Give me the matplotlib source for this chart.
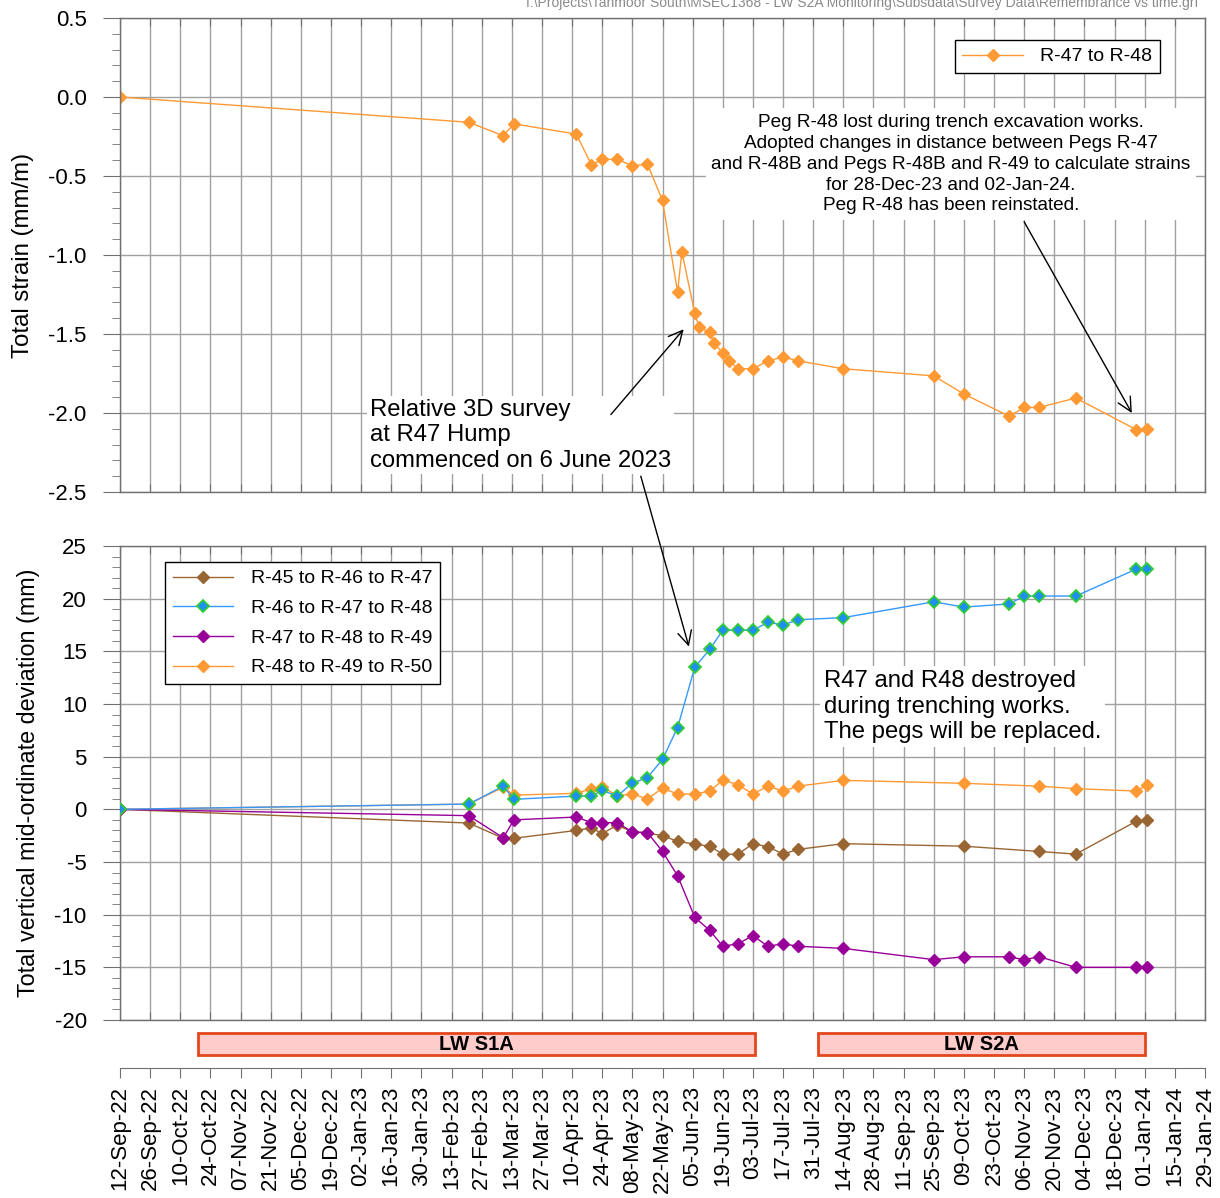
import matplotlib
matplotlib.use("Agg")
import matplotlib.pyplot as plt
import matplotlib.dates as mdates
from matplotlib.patches import Rectangle
from matplotlib.ticker import MultipleLocator, FormatStrFormatter, FixedLocator
import pandas as pd

plt.rcParams["font.family"] = ["Liberation Sans", "DejaVu Sans"]
plt.rcParams["axes.unicode_minus"] = False

# ---------------------------------------------------------------- data
strain_dates = ["2022-09-12", "2023-02-21", "2023-03-09", "2023-03-14", "2023-04-12",
                "2023-04-19", "2023-04-24", "2023-05-01", "2023-05-08", "2023-05-15",
                "2023-05-22", "2023-05-29", "2023-05-31", "2023-06-06", "2023-06-08",
                "2023-06-13", "2023-06-15", "2023-06-19", "2023-06-22", "2023-06-26",
                "2023-07-03", "2023-07-10", "2023-07-17", "2023-07-24", "2023-08-14",
                "2023-09-25", "2023-10-09", "2023-10-30", "2023-11-06", "2023-11-13",
                "2023-11-30", "2023-12-28", "2024-01-02"]
strain_r47_r48 = [0.00, -0.16, -0.245, -0.17, -0.235,
                  -0.43, -0.395, -0.395, -0.435, -0.425,
                  -0.655, -1.235, -0.98, -1.37, -1.455,
                  -1.49, -1.56, -1.62, -1.67, -1.72,
                  -1.72, -1.67, -1.645, -1.67, -1.72,
                  -1.765, -1.88, -2.02, -1.965, -1.965,
                  -1.905, -2.105, -2.10]

early_dates = ["2022-09-12", "2023-02-21", "2023-03-09", "2023-03-14", "2023-04-12",
               "2023-04-19", "2023-04-24", "2023-05-01", "2023-05-08", "2023-05-15",
               "2023-05-22", "2023-05-29", "2023-06-06", "2023-06-13", "2023-06-19",
               "2023-06-26", "2023-07-03", "2023-07-10", "2023-07-17", "2023-07-24",
               "2023-08-14"]

r46_r48_dates = early_dates + ["2023-09-25", "2023-10-09", "2023-10-30", "2023-11-06",
                               "2023-11-13", "2023-11-30", "2023-12-28", "2024-01-02"]
r46_r48 = [0.0, 0.5, 2.2, 0.95, 1.26, 1.26, 1.8, 1.26, 2.5, 3.0,
           4.75, 7.76, 13.5, 15.2, 17.0, 17.0, 17.0, 17.76, 17.5, 18.0,
           18.2, 19.7, 19.2, 19.5, 20.25, 20.25, 20.25, 22.8, 22.8]

r47_r49_dates = r46_r48_dates
r47_r49 = [0.0, -0.6, -2.7, -1.0, -0.73, -1.27, -1.27, -1.27, -2.15, -2.2,
           -4.0, -6.3, -10.26, -11.5, -13.0, -12.76, -12.0, -13.0, -12.76, -13.0,
           -13.2, -14.27, -14.0, -14.0, -14.27, -14.0, -15.0, -15.0, -15.0]

r45_r47_dates = early_dates + ["2023-10-09", "2023-11-13", "2023-11-30",
                               "2023-12-28", "2024-01-02"]
r45_r47 = [0.0, -1.3, -2.75, -2.75, -2.0, -1.77, -2.3, -1.5, -2.15, -2.25,
           -2.5, -3.04, -3.3, -3.5, -4.27, -4.27, -3.26, -3.55, -4.25, -3.8,
           -3.26, -3.5, -4.0, -4.25, -1.14, -1.0]

r48_r50_dates = r45_r47_dates
r48_r50 = [0.0, 0.5, 2.1, 1.35, 1.52, 1.95, 2.15, 1.3, 1.45, 1.0,
           2.0, 1.46, 1.46, 1.74, 2.78, 2.34, 1.46, 2.2, 1.74, 2.2,
           2.75, 2.47, 2.2, 1.96, 1.74, 2.28]

longwalls = ["LW S1A", "LW S2A"]
lw_start = ["2022-10-18", "2023-08-02"]
lw_end = ["2023-07-04", "2024-01-01"]

x_start, x_end = "2022-09-12", "2024-01-29"
tick_dates = pd.date_range(x_start, x_end, freq="14D")

file_path = r"I:\Projects\Tahmoor South\MSEC1368 - LW S2A Monitoring\Subsdata\Survey Data\Remembrance vs time.grf"

# ---------------------------------------------------------------- colours
C_ORANGE = "#FF9933"
C_BROWN = "#996633"
C_BLUE_LINE = "#3399FF"
C_BLUE = "#1E8FF0"
C_GREEN = "#33CC33"
C_PURPLE = "#990099"
GRID = "#a0a0a0"
AXIS = "#707070"

# ---------------------------------------------------------------- figure
W, H = 1220, 1198
fig = plt.figure(figsize=(W / 100, H / 100), dpi=100)


def px_axes(left, top, right, bottom):
    return fig.add_axes([left / W, 1 - bottom / H, (right - left) / W, (bottom - top) / H])


ax1 = px_axes(120, 18, 1205, 492)
ax2 = px_axes(120, 546, 1205, 1020)
ax3 = px_axes(120, 1020, 1205, 1068)

xlim = (mdates.date2num(pd.Timestamp(x_start)), mdates.date2num(pd.Timestamp(x_end)))


def dt(s):
    return mdates.date2num(pd.to_datetime(s))


def style_panel(ax):
    ax.set_xlim(*xlim)
    ax.xaxis.set_major_locator(FixedLocator(mdates.date2num(tick_dates)))
    ax.tick_params(axis="x", which="both", bottom=True, top=True, direction="in",
                   length=6, color=AXIS, labelbottom=False)
    ax.tick_params(axis="y", which="major", direction="out", length=12, color=AXIS,
                   labelsize=16, pad=12)
    ax.tick_params(axis="y", which="minor", direction="out", length=6, color=AXIS)
    ax.grid(True, which="major", color=GRID, lw=1.0)
    ax.set_axisbelow(True)
    for sp in ax.spines.values():
        sp.set_color(AXIS)
        sp.set_linewidth(1.0)


mk = dict(marker="D", markersize=6.2, lw=1.0)

# ---- top panel: total strain
style_panel(ax1)
ax1.plot(dt(strain_dates), strain_r47_r48, color=C_ORANGE, mfc=C_ORANGE, mec=C_ORANGE,
         label="R-47 to R-48", **mk)
ax1.set_ylim(-2.5, 0.5)
ax1.yaxis.set_major_locator(MultipleLocator(0.5))
ax1.yaxis.set_minor_locator(MultipleLocator(0.1))
ax1.yaxis.set_major_formatter(FormatStrFormatter("%.1f"))
ax1.set_ylabel("Total strain (mm/m)", fontsize=17.3)
ax1.yaxis.set_label_coords(-0.0795, 0.5)
leg1 = ax1.legend(loc="upper right", bbox_to_anchor=(0.9585, 0.9536), fontsize=14,
                  frameon=True, fancybox=False, edgecolor="black", framealpha=1,
                  handlelength=3.1, handletextpad=0.9, borderpad=0.4, borderaxespad=0,
                  numpoints=1)
leg1.get_frame().set_linewidth(1.0)

ax1.text(dt("2023-10-03"), -0.425,
         "Peg R-48 lost during trench excavation works.\n"
         "Adopted changes in distance between Pegs R-47\n"
         "and R-48B and Pegs R-48B and R-49 to calculate strains\n"
         "for 28-Dec-23 and 02-Jan-24.\n"
         "Peg R-48 has been reinstated.",
         ha="center", va="center", multialignment="center", fontsize=13.7,
         linespacing=1.3, zorder=5,
         bbox=dict(facecolor="white", edgecolor="none", pad=4))
ax1.text(dt("2023-01-06"), -1.91,
         "Relative 3D survey\nat R47 Hump\ncommenced on 6 June 2023",
         ha="left", va="top", fontsize=17.2, linespacing=1.2, zorder=5,
         bbox=dict(facecolor="white", edgecolor="none", pad=2))

arrow = dict(arrowstyle="->,head_length=0.5,head_width=0.25", color="black", lw=1.0,
             mutation_scale=20, shrinkA=0, shrinkB=0)
ax1.annotate("", xy=(dt("2023-05-31 20:00"), -1.47), xytext=(dt("2023-04-28"), -2.01),
             arrowprops=arrow, zorder=6)
ax1.annotate("", xy=(dt("2023-12-26"), -2.0), xytext=(dt("2023-11-06"), -0.79),
             arrowprops=arrow, zorder=6)

# ---- bottom panel: mid-ordinate deviation
style_panel(ax2)
l_or, = ax2.plot(dt(r48_r50_dates), r48_r50, color=C_ORANGE, mfc=C_ORANGE, mec=C_ORANGE,
                 label="R-48 to R-49 to R-50", zorder=3, **mk)
l_br, = ax2.plot(dt(r45_r47_dates), r45_r47, color=C_BROWN, mfc=C_BROWN, mec=C_BROWN,
                 label="R-45 to R-46 to R-47", zorder=4, **mk)
l_pu, = ax2.plot(dt(r47_r49_dates), r47_r49, color=C_PURPLE, mfc=C_PURPLE, mec=C_PURPLE,
                 label="R-47 to R-48 to R-49", zorder=5, **mk)
l_bl, = ax2.plot(dt(r46_r48_dates), r46_r48, color=C_BLUE_LINE, mfc=C_BLUE, mec=C_GREEN,
                 mew=1.3, label="R-46 to R-47 to R-48", zorder=6, **mk)
ax2.set_ylim(-20, 25)
ax2.yaxis.set_major_locator(MultipleLocator(5))
ax2.yaxis.set_minor_locator(MultipleLocator(1))
ax2.set_ylabel("Total vertical mid-ordinate deviation (mm)", fontsize=16.8)
ax2.yaxis.set_label_coords(-0.0735, 0.5)
leg2 = ax2.legend(handles=[l_br, l_bl, l_pu, l_or], loc="upper left",
                  bbox_to_anchor=(0.0415, 0.9662), fontsize=14, frameon=True,
                  fancybox=False, edgecolor="black", framealpha=1, handlelength=3.1,
                  handletextpad=0.9, borderpad=0.4, borderaxespad=0, labelspacing=0.62,
                  numpoints=1)
leg2.get_frame().set_linewidth(1.0)
leg2.set_zorder(10)

ax2.text(dt("2023-08-05"), 13.2,
         "R47 and R48 destroyed\nduring trenching works.\nThe pegs will be replaced.",
         ha="left", va="top", fontsize=17.2, linespacing=1.2, zorder=7,
         bbox=dict(facecolor="white", edgecolor="none", pad=3))

ax2.annotate("", xy=(dt("2023-06-03 06:00"), 15.45), xycoords=ax2.transData,
             xytext=(dt("2023-05-11 22:00"), -2.40), textcoords=ax1.transData,
             arrowprops=arrow, annotation_clip=False, zorder=8)

# ---- longwall extraction band and date axis
ax3.set_xlim(*xlim)
ax3.set_ylim(0, 1)
ax3.patch.set_alpha(0)
for name in ["top", "left", "right"]:
    ax3.spines[name].set_visible(False)
ax3.spines["bottom"].set_color(AXIS)
ax3.set_yticks([])
ax3.xaxis.set_major_locator(FixedLocator(mdates.date2num(tick_dates)))
ax3.xaxis.set_major_formatter(mdates.DateFormatter("%d-%b-%y"))
ax3.tick_params(axis="x", direction="out", length=7, color=AXIS, labelsize=16,
                labelrotation=90, pad=6)
for name, s, e in zip(longwalls, lw_start, lw_end):
    x0 = dt(s)
    x1 = dt(e)
    ax3.add_patch(Rectangle((x0, 0.27), x1 - x0, 0.46, facecolor="#FFCCCC",
                            edgecolor="#E4461E", lw=2))
    ax3.text((x0 + x1) / 2, 0.5, name, ha="center", va="center", fontsize=14.5,
             fontweight="bold", family=["Liberation Sans Narrow", "Liberation Sans"])

fig.text(1198 / W, 1 - 3 / H, file_path, ha="right", va="center", fontsize=10,
         color="#8a8a8a", family=["Liberation Sans Narrow", "Liberation Sans"])

fig.savefig("out.png", dpi=100)
